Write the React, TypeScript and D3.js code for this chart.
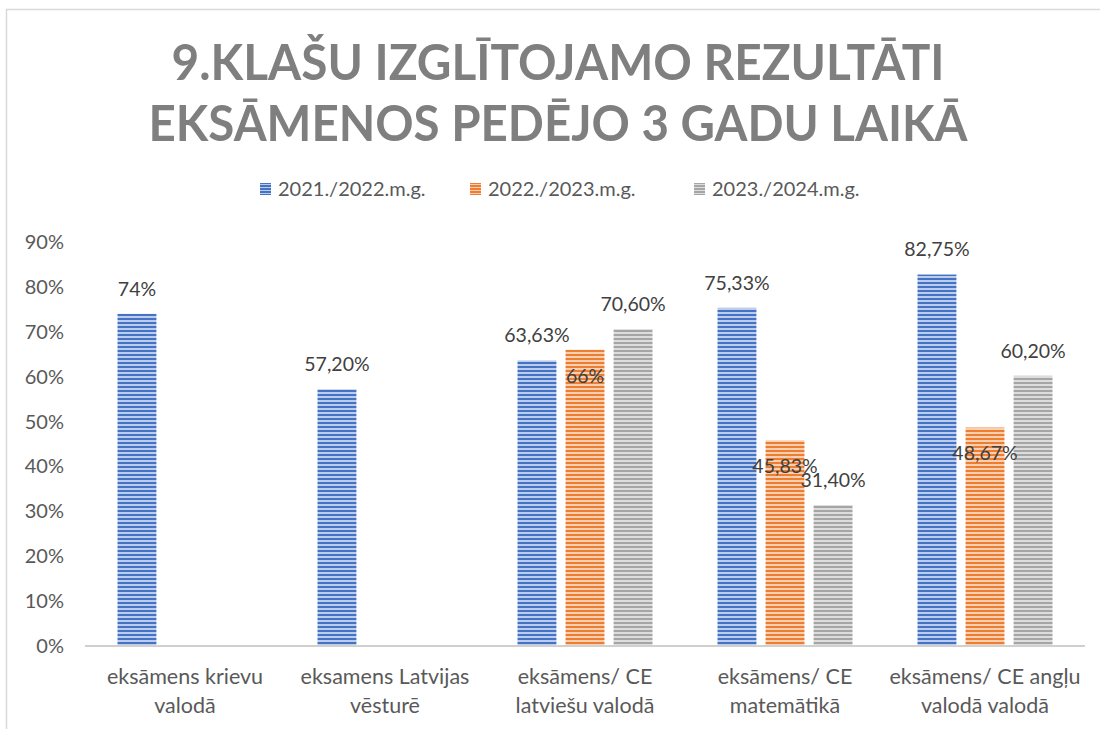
import React from "react";
import * as d3 from "d3";

const title1 = "9.KLAŠU IZGLĪTOJAMO REZULTĀTI";
const title2 = "EKSĀMENOS PEDĒJO 3 GADU LAIKĀ";
const categories = [
  ["eksāmens krievu", "valodā"],
  ["eksamens Latvijas", "vēsturē"],
  ["eksāmens/ CE", "latviešu valodā"],
  ["eksāmens/ CE", "matemātikā"],
  ["eksāmens/ CE angļu", "valodā valodā"],
];
const seriesNames = ["2021./2022.m.g.", "2022./2023.m.g.", "2023./2024.m.g."];
const s2122: (number | null)[] = [74, 57.2, 63.63, 75.33, 82.75];
const s2223: (number | null)[] = [null, null, 66, 45.83, 48.67];
const s2324: (number | null)[] = [null, null, 70.6, 31.4, 60.2];
const labels2122 = ["74%", "57,20%", "63,63%", "75,33%", "82,75%"];
const labels2223 = ["", "", "66%", "45,83%", "48,67%"];
const labels2324 = ["", "", "70,60%", "31,40%", "60,20%"];
// label placement: true = inside bar top (as in the reference)
const inside2223 = [false, false, true, true, true];
const yTicks = [0, 10, 20, 30, 40, 50, 60, 70, 80, 90];

const colors = [
  { dark: "#4472C4", light: "#BCCDEC" },
  { dark: "#ED7D31", light: "#F9CFB2" },
  { dark: "#A5A5A5", light: "#DDDDDD" },
];

const FONT = "Lato, 'Open Sans', sans-serif";

export default function App() {
  const W = 1100;
  const H = 729;
  const x0 = 85, x1 = 1085;
  const yBase = 646, yTop = 242;
  const x = d3.scaleBand<number>().domain(d3.range(categories.length)).range([x0, x1]).paddingInner(0).paddingOuter(0);
  const y = d3.scaleLinear().domain([0, 90]).range([yBase, yTop]);
  const groupW = 135;
  const inner = d3.scaleBand<number>().domain([0, 1, 2]).range([0, groupW]).paddingInner(0.19).paddingOuter(0);
  const series = [s2122, s2223, s2324];
  const labels = [labels2122, labels2223, labels2324];

  const bars: JSX.Element[] = [];
  const texts: JSX.Element[] = [];
  series.forEach((s, si) => {
    s.forEach((v, ci) => {
      if (v == null) return;
      const bx = (x(ci) as number) + (x.bandwidth() - groupW) / 2 + (inner(si) as number);
      const bw = inner.bandwidth();
      const top = y(v);
      bars.push(
        <rect key={`b${si}-${ci}`} x={bx} y={top} width={bw} height={yBase - top} fill={`url(#pat${si})`} />
      );
      const ins = si === 1 && inside2223[ci];
      const ly = ins ? top + 26 : top - 25;
      texts.push(
        <text key={`t${si}-${ci}`} x={bx + bw / 2} y={ly} dy="0.35em" textAnchor="middle" fontSize={19.5} fill="#404040" fontFamily={FONT}>
          {labels[si][ci]}
        </text>
      );
    });
  });

  const legendItems = [
    { mx: 260, tx: 278 },
    { mx: 470, tx: 488 },
    { mx: 694, tx: 712 },
  ];

  return (
    <svg width={W} height={H} style={{ position: "absolute", left: 0, top: 0, background: "#fff" }}>
      <defs>
        {colors.map((c, i) => (
          <pattern key={i} id={`pat${i}`} patternUnits="userSpaceOnUse" width={8} height={4} y={yBase}>
            <rect x={0} y={0} width={8} height={2} fill={c.dark} />
            <rect x={0} y={2} width={8} height={2} fill={c.light} />
          </pattern>
        ))}
        {colors.map((c, i) => (
          <pattern key={`l${i}`} id={`lpat${i}`} patternUnits="userSpaceOnUse" width={8} height={3} y={182}>
            <rect x={0} y={0} width={8} height={2} fill={c.dark} />
            <rect x={0} y={2} width={8} height={1} fill={c.light} />
          </pattern>
        ))}
      </defs>
      <rect x={6.5} y={9.5} width={1200} height={800} fill="#fff" stroke="#D9D9D9" strokeWidth={1.5} />
      <text x={558} y={80} textAnchor="middle" fontSize={50} fontWeight={700} fill="#7F7F7F" fontFamily={FONT} textLength={773} lengthAdjust="spacingAndGlyphs">
        {title1}
      </text>
      <text x={558} y={141} textAnchor="middle" fontSize={50} fontWeight={700} fill="#7F7F7F" fontFamily={FONT} textLength={819} lengthAdjust="spacingAndGlyphs">
        {title2}
      </text>
      {seriesNames.map((n, i) => (
        <g key={n}>
          <rect x={legendItems[i].mx} y={183} width={11} height={12} fill={`url(#lpat${i})`} />
          <text x={legendItems[i].tx} y={189} dy="0.35em" fontSize={20} fill="#595959" fontFamily={FONT}>
            {n}
          </text>
        </g>
      ))}
      {yTicks.map((t) => (
        <text key={t} x={64} y={y(t)} dy="0.35em" textAnchor="end" fontSize={20} fill="#595959" fontFamily={FONT}>
          {t}%
        </text>
      ))}
      {bars}
      <line x1={x0} x2={x1} y1={yBase} y2={yBase} stroke="#D0D0D0" strokeWidth={2} />
      {texts}
      {categories.map((c, i) => (
        <text key={i} x={(x(i) as number) + x.bandwidth() / 2} textAnchor="middle" fontSize={21.5} fill="#595959" fontFamily={FONT}>
          <tspan x={(x(i) as number) + x.bandwidth() / 2} y={676} dy="0.35em">{c[0]}</tspan>
          <tspan x={(x(i) as number) + x.bandwidth() / 2} y={705} dy="0.35em">{c[1]}</tspan>
        </text>
      ))}
    </svg>
  );
}
